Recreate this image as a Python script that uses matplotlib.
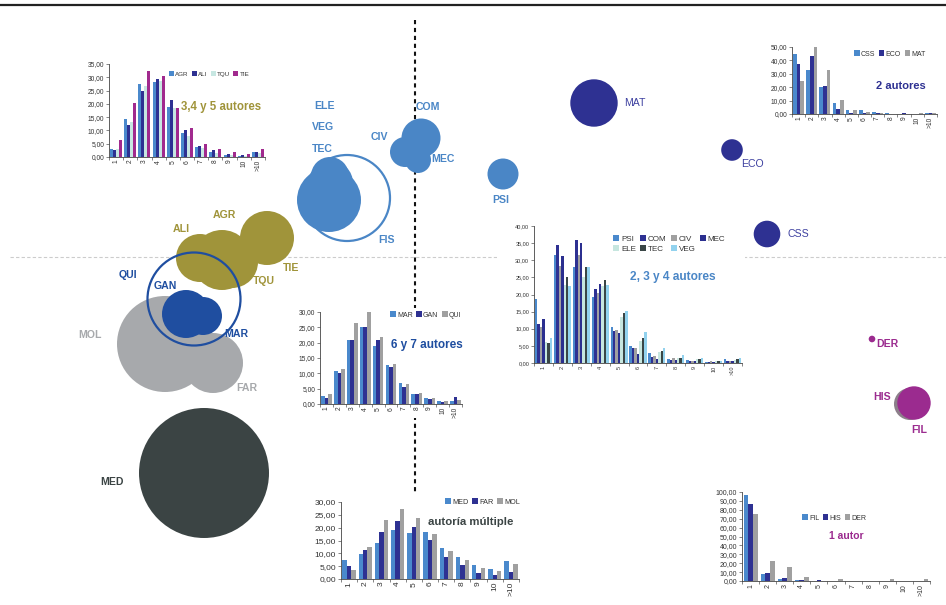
import matplotlib
matplotlib.use('Agg')
import matplotlib.pyplot as plt
from matplotlib.patches import Circle, Rectangle
import numpy as np

plt.rcParams['font.family'] = ['Liberation Sans', 'DejaVu Sans']

# ---------------- data ----------------
categories = ['1', '2', '3', '4', '5', '6', '7', '8', '9', '10', '>10']

# bubble map (x, y, radius in map units)
bub_names = ['MED', 'MOL', 'FAR', 'GAN', 'MAR', 'QUI', 'ALI', 'AGR', 'TQU', 'TIE',
             'FIS', 'TEC', 'VEG', 'ELE', 'COM', 'CIV', 'MEC', 'PSI',
             'MAT', 'ECO', 'CSS', 'DER', 'HIS', 'FIL']
bub_x = [204, 165, 213, 186, 203, 194, 200, 222, 232, 267,
         347, 329, 331, 330, 421, 405, 418, 503,
         594, 732, 767, 872, 910, 914]
bub_y = [473, 344, 363, 314, 316, 299, 258, 260, 262, 238,
         198, 200, 183, 176, 138, 152, 160, 174,
         103, 150, 234, 339, 404, 403]
bub_r = [65, 48, 30, 24, 19, 46.5, 24, 30, 26, 27,
         43, 32, 22, 19, 19.5, 15, 13, 15.5,
         23.7, 10.8, 13.3, 3.3, 16, 16.7]

# inset bar charts
s345_names = ['AGR', 'ALI', 'TQU', 'TIE']
s345_AGR = [3.0, 14.2, 27.5, 28.3, 18.8, 9.0, 3.6, 2.0, 0.7, 0.5, 1.8]
s345_ALI = [2.5, 12.0, 25.0, 29.2, 21.3, 10.0, 4.2, 2.8, 1.0, 0.7, 2.0]
s345_TQU = [3.0, 13.0, 26.7, 28.5, 18.5, 8.0, 3.5, 1.5, 0.8, 0.5, 1.5]
s345_TIE = [6.5, 20.3, 32.3, 30.6, 18.4, 11.1, 5.0, 2.9, 1.7, 1.0, 3.0]

s2_names = ['CSS', 'ECO', 'MAT']
s2_CSS = [45, 33, 20, 8, 3, 3, 1.5, 1, 0.3, 0, 1]
s2_ECO = [37, 43, 21, 4, 0.5, 1, 0.5, 0, 1, 0, 1]
s2_MAT = [25, 50, 33, 10.5, 3, 1.5, 1, 0.3, 0, 0.5, 1]

s234_names = ['PSI', 'COM', 'CIV', 'MEC', 'ELE', 'TEC', 'VEG']
s234_PSI = [18.7, 31.4, 28.1, 19.4, 10.5, 5.0, 2.9, 1.1, 0.8, 0.3, 1.1]
s234_COM = [11.3, 34.4, 35.9, 21.6, 9.2, 4.3, 1.8, 0.9, 0.6, 0.3, 0.6]
s234_CIV = [10.4, 28.4, 31.5, 20.5, 9.6, 4.3, 2.1, 1.5, 0.6, 0.5, 0.7]
s234_MEC = [12.9, 31.2, 35.1, 23.1, 8.9, 2.7, 1.2, 0.9, 0.6, 0.4, 0.7]
s234_ELE = [6.0, 22.7, 25.0, 22.5, 13.5, 6.5, 3.2, 1.5, 1.1, 0.7, 1.0]
s234_TEC = [5.9, 25.2, 28.1, 24.1, 14.7, 7.4, 3.5, 1.4, 1.2, 0.6, 1.2]
s234_VEG = [7.3, 22.5, 28.1, 22.8, 15.2, 9.0, 4.3, 2.3, 1.4, 0.6, 1.4]

s67_names = ['MAR', 'GAN', 'QUI']
s67_MAR = [2.5, 10.8, 20.9, 25.0, 18.9, 12.7, 6.8, 3.2, 2.0, 1.0, 1.0]
s67_GAN = [2.1, 10.2, 20.9, 25.0, 21.0, 12.0, 5.5, 3.2, 1.5, 0.8, 2.2]
s67_QUI = [3.1, 11.4, 26.3, 29.9, 21.8, 13.1, 6.5, 3.6, 1.8, 1.0, 1.3]

smul_names = ['MED', 'FAR', 'MOL']
smul_MED = [7.5, 9.9, 13.9, 18.9, 17.8, 18.2, 12.1, 8.6, 5.4, 3.9, 6.9]
smul_FAR = [5.2, 11.3, 18.3, 22.7, 20.1, 15.1, 8.7, 5.5, 2.5, 1.4, 2.7]
smul_MOL = [3.4, 12.3, 22.9, 27.2, 23.6, 17.4, 11.1, 7.3, 4.3, 3.0, 5.7]

s1_names = ['FIL', 'HIS', 'DER']
s1_FIL = [96.5, 8.0, 2.5, 1.0, 0.5, 0.5, 0, 0, 0, 0, 0.5]
s1_HIS = [87.0, 8.5, 3.5, 1.5, 1.5, 0, 0, 0.3, 0, 0, 0]
s1_DER = [75.0, 22.0, 15.5, 4.5, 0.5, 2.3, 0, 0, 2.5, 0, 2.3]

# ---------------- styles ----------------
BLUE = '#4a86c6'
NAVY = '#2e3192'
NAVY_L = '#3d40a0'
OLIVE = '#a0943a'
ROYAL = '#1f4ea0'
GREY = '#a7a9ac'
DARK = '#3b4444'
PURP = '#9b2b8f'

bub_style = {
    'MED': (DARK, 'fill'), 'MOL': (GREY, 'fill'), 'FAR': (GREY, 'fill'),
    'GAN': (ROYAL, 'fill'), 'MAR': (ROYAL, 'fill'), 'QUI': (ROYAL, 'ring'),
    'ALI': (OLIVE, 'fill'), 'AGR': (OLIVE, 'fill'), 'TQU': (OLIVE, 'fill'), 'TIE': (OLIVE, 'fill'),
    'FIS': (BLUE, 'ring'), 'TEC': (BLUE, 'fill'), 'VEG': (BLUE, 'fill'), 'ELE': (BLUE, 'fill'),
    'COM': (BLUE, 'fill'), 'CIV': (BLUE, 'fill'), 'MEC': (BLUE, 'fill'), 'PSI': (BLUE, 'fill'),
    'MAT': (NAVY, 'fill'), 'ECO': (NAVY, 'fill'), 'CSS': (NAVY, 'fill'),
    'DER': (PURP, 'fill'), 'HIS': ('#8c7f8a', 'fill'), 'FIL': (PURP, 'fill'),
}
zorders = {'QUI': 6, 'FIS': 3}

labels = {  # name: (x, y, color, weight)
    'ELE': (324, 106, BLUE, 'bold'), 'VEG': (323, 127, BLUE, 'bold'), 'TEC': (322, 149, BLUE, 'bold'),
    'CIV': (379, 137, BLUE, 'bold'), 'COM': (428, 107, BLUE, 'bold'), 'MEC': (443, 159, BLUE, 'bold'),
    'FIS': (386, 240, BLUE, 'bold'), 'PSI': (501, 200, BLUE, 'bold'),
    'AGR': (224, 215, OLIVE, 'bold'), 'ALI': (181, 229, OLIVE, 'bold'), 'TIE': (291, 268, OLIVE, 'bold'),
    'TQU': (264, 281, OLIVE, 'bold'),
    'QUI': (128, 275, ROYAL, 'bold'), 'GAN': (165, 286, ROYAL, 'bold'), 'MAR': (236, 334, ROYAL, 'bold'),
    'MOL': (90, 335, GREY, 'bold'), 'FAR': (247, 388, GREY, 'bold'),
    'MAT': (635, 103, NAVY_L, 'normal'), 'ECO': (752, 164, NAVY_L, 'normal'), 'CSS': (798, 234, NAVY_L, 'normal'),
    'DER': (887, 344, PURP, 'bold'), 'HIS': (882, 397, PURP, 'bold'), 'FIL': (919, 430, PURP, 'bold'),
    'MED': (112, 482, DARK, 'bold'),
}

C_BLUE = '#4a89cc'
C_NAVY = '#2e3192'
C_GREY = '#a0a0a0'

W, H = 946, 605
fig = plt.figure(figsize=(W / 100, H / 100), dpi=100)
main = fig.add_axes([0, 0, 1, 1])
main.set_xlim(0, W)
main.set_ylim(H, 0)
main.axis('off')

# frame lines
main.plot([0, W], [5, 5], color='#222222', lw=1.6, solid_capstyle='butt', zorder=1)
main.plot([415, 415], [20, 600], color='#111111', lw=1.5, ls=(0, (2, 1.8)), zorder=1)
main.plot([10, W], [257, 257], color='#cccccc', lw=0.8, ls=(0, (3, 2)), zorder=1)

# bubbles
for nm, x, y, r in zip(bub_names, bub_x, bub_y, bub_r):
    col, kind = bub_style[nm]
    if kind == 'fill':
        c = Circle((x, y), r, facecolor=col, edgecolor='none', zorder=zorders.get(nm, 4))
    else:
        c = Circle((x, y), r, facecolor='none', edgecolor=col, lw=1.6, zorder=zorders.get(nm, 4))
    main.add_patch(c)

for nm, (x, y, col, wt) in labels.items():
    main.text(x, y, nm, color=col, fontsize=7.6, fontweight=wt, ha='center', va='center', zorder=8)

# white backgrounds for insets
for (x0, y0, x1, y1) in [(78, 58, 270, 172), (760, 40, 940, 132), (497, 222, 745, 382),
                         (295, 308, 468, 418), (310, 492, 525, 600), (700, 487, 940, 600)]:
    main.add_patch(Rectangle((x0, y0), x1 - x0, y1 - y0, facecolor='white', edgecolor='none', zorder=2))


def inset(rect, names, series, colors, ymax, ystep, title, title_xy, title_col, title_fs,
          leg_xy, leg_ncol, tick_fs, leg_fs, group=0.85, order=None):
    l, t, r, b = rect
    ax = fig.add_axes([l / W, 1 - b / H, (r - l) / W, (b - t) / H])
    ax.patch.set_alpha(0)
    n = len(names)
    x = np.arange(len(categories))
    bw = group / n
    handles = []
    for i, (nm, v, c) in enumerate(zip(names, series, colors)):
        bc = ax.bar(x - group / 2 + bw * (i + 0.5), v, width=bw, color=c, label=nm, linewidth=0)
        handles.append(bc)
    ax.set_xlim(-0.5, len(categories) - 0.5)
    ax.set_ylim(0, ymax)
    yt = np.arange(0, ymax + 0.001, ystep)
    ax.set_yticks(yt)
    ax.set_yticklabels([f'{v:.2f}'.replace('.', ',') for v in yt], fontsize=tick_fs, color='#333333')
    ax.set_xticks(x)
    ax.set_xticklabels(categories, rotation=90, fontsize=tick_fs, color='#333333')
    ax.set_xticks(np.arange(-0.5, len(categories), 1), minor=True)
    ax.tick_params(axis='x', which='major', length=0, pad=2)
    ax.tick_params(axis='x', which='minor', length=2.5, width=0.5, color='#555555')
    ax.tick_params(axis='y', length=2, width=0.5, pad=1.5, color='#555555')
    for s in ['top', 'right']:
        ax.spines[s].set_visible(False)
    for s in ['left', 'bottom']:
        ax.spines[s].set_linewidth(0.6)
        ax.spines[s].set_color('#444444')
    ax.text(title_xy[0], title_xy[1], title, transform=main.transData, color=title_col,
            fontsize=title_fs, fontweight='bold', ha='center', va='center', clip_on=False)
    if order is not None:
        handles = [handles[i] for i in order]
        lbls = [names[i] for i in order]
    else:
        lbls = names
    ax.legend(handles, lbls, loc='center left', bbox_to_anchor=leg_xy, bbox_transform=main.transData,
              ncol=leg_ncol, frameon=False, fontsize=leg_fs, handlelength=0.8, handleheight=0.8,
              handletextpad=0.2, columnspacing=0.5, borderpad=0, borderaxespad=0, labelspacing=0.25,
              labelcolor='#333333')
    return ax


inset((109, 64, 265, 157), s345_names, [s345_AGR, s345_ALI, s345_TQU, s345_TIE],
      [C_BLUE, C_NAVY, '#c7e7e2', '#a12a8e'], 35, 5, '3,4 y 5 autores', (221, 107), OLIVE, 8.3,
      (169, 74), 4, 4.8, 4.5, group=0.85)

inset((792, 47, 937, 114), s2_names, [s2_CSS, s2_ECO, s2_MAT],
      [C_BLUE, C_NAVY, C_GREY], 50, 10, '2 autores', (901, 86), NAVY, 8,
      (854, 54), 3, 4.8, 5, group=0.83)

inset((534, 226, 742, 363), s234_names,
      [s234_PSI, s234_COM, s234_CIV, s234_MEC, s234_ELE, s234_TEC, s234_VEG],
      [C_BLUE, C_NAVY, C_GREY, '#2b2f8f', '#c6e6df', '#3a4646', '#92d2ee'], 40, 5,
      '2, 3 y 4 autores', (673, 277), BLUE, 8.6,
      (613, 244), 4, 4, 5.8, group=0.9, order=[0, 4, 1, 5, 2, 6, 3])

inset((320, 312, 462, 404), s67_names, [s67_MAR, s67_GAN, s67_QUI],
      [C_BLUE, C_NAVY, C_GREY], 30, 5, '6 y 7 autores', (427, 345), ROYAL, 8.5,
      (390, 315), 3, 4.8, 5, group=0.83)

inset((341, 502, 519, 579), smul_names, [smul_MED, smul_FAR, smul_MOL],
      [C_BLUE, C_NAVY, C_GREY], 30, 5, 'autoría múltiple', (471, 522), DARK, 8.2,
      (445, 502), 3, 6, 5.2, group=0.82)

inset((742, 492, 930, 581), s1_names, [s1_FIL, s1_HIS, s1_DER],
      [C_BLUE, C_NAVY, C_GREY], 100, 10, '1 autor', (846, 536), PURP, 7.5,
      (802, 518), 3, 5, 5, group=0.82)

fig.savefig('out.png', dpi=100)
